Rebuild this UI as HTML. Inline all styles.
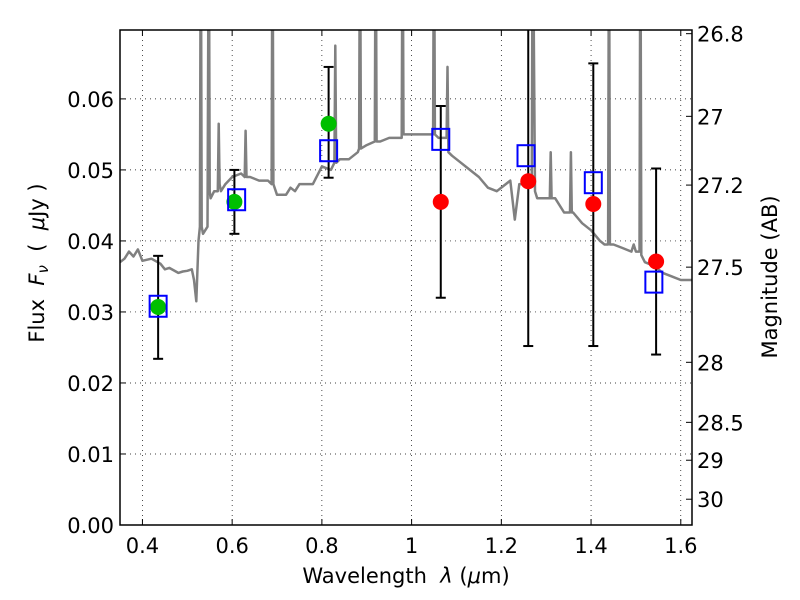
<!DOCTYPE html>
<html><head><meta charset="utf-8"><style>
body{margin:0;background:#fff}
svg{display:block;font-family:"DejaVu Sans","Liberation Sans",sans-serif}
text{white-space:pre}
</style></head><body>
<svg id="chart" width="800" height="600">
<defs><clipPath id="clip"><rect x="120" y="30" width="572" height="495"/></clipPath></defs>
<rect x="0" y="0" width="800" height="600" fill="#fff"/>
<g id="grid"></g>
<g id="series" clip-path="url(#clip)"></g>
<rect x="120" y="30" width="572" height="495" fill="none" stroke="#000" stroke-width="1.5"/>
<g id="axes"></g>
<text x="406" y="583" font-size="21" text-anchor="middle">Wavelength  <tspan font-style="italic">λ</tspan> (<tspan font-style="italic">μ</tspan>m)</text>
<text transform="translate(44,263) rotate(-90)" font-size="21" text-anchor="middle">Flux  <tspan font-style="italic">F</tspan><tspan font-style="italic" font-size="15" dy="4">ν</tspan><tspan dy="-4">  (  </tspan><tspan font-style="italic">μ</tspan>Jy )</text>
<text transform="translate(777,277) rotate(-90)" font-size="21" text-anchor="middle">Magnitude (AB)</text>
</svg>
<script>
const xTicks=[0.4,0.6,0.8,1.0,1.2,1.4,1.6];
const xTickLabels=["0.4","0.6","0.8","1","1.2","1.4","1.6"];
const yTicks=[0,0.01,0.02,0.03,0.04,0.05,0.06];
const yTickLabels=["0.00","0.01","0.02","0.03","0.04","0.05","0.06"];
const magTicks=[26.8,27,27.2,27.5,28,28.5,29,30];
const magTickLabels=["26.8","27","27.2","27.5","28","28.5","29","30"];
const specWave=[0.35,0.36,0.37,0.38,0.39,0.4,0.42,0.44,0.45,0.46,0.48,0.49,0.5,0.51,0.515,0.52,0.525,0.528,0.53,0.532,0.535,0.545,0.548,0.55,0.552,0.56,0.568,0.57,0.572,0.575,0.585,0.6,0.62,0.628,0.63,0.632,0.64,0.66,0.68,0.688,0.69,0.692,0.7,0.72,0.73,0.74,0.75,0.76,0.78,0.8,0.82,0.828,0.83,0.832,0.84,0.86,0.88,0.883,0.885,0.887,0.9,0.918,0.92,0.922,0.93,0.95,0.97,0.978,0.98,0.982,1.0,1.02,1.04,1.048,1.05,1.052,1.06,1.078,1.08,1.082,1.09,1.11,1.13,1.15,1.17,1.19,1.21,1.22,1.23,1.24,1.26,1.268,1.27,1.275,1.28,1.3,1.308,1.31,1.312,1.32,1.34,1.353,1.355,1.357,1.36,1.38,1.4,1.42,1.43,1.438,1.44,1.442,1.45,1.47,1.49,1.495,1.5,1.508,1.51,1.512,1.52,1.54,1.56,1.58,1.6,1.625];
const specFlux=[0.037,0.0375,0.0385,0.0378,0.0388,0.0372,0.0375,0.0368,0.036,0.0362,0.0355,0.0357,0.0358,0.036,0.0345,0.0315,0.04,0.042,0.09,0.042,0.041,0.042,0.09,0.047,0.046,0.047,0.047,0.0565,0.048,0.047,0.048,0.049,0.0495,0.049,0.0555,0.049,0.049,0.0485,0.0485,0.048,0.09,0.048,0.0465,0.0465,0.0475,0.047,0.048,0.048,0.048,0.0505,0.050,0.051,0.0675,0.051,0.0515,0.0515,0.0525,0.053,0.09,0.053,0.0535,0.054,0.09,0.054,0.054,0.0545,0.0545,0.0545,0.09,0.055,0.055,0.055,0.055,0.055,0.09,0.055,0.0545,0.0545,0.0645,0.0525,0.052,0.051,0.050,0.049,0.0475,0.047,0.048,0.0485,0.043,0.048,0.048,0.049,0.09,0.047,0.046,0.046,0.046,0.0525,0.046,0.046,0.044,0.044,0.0525,0.044,0.044,0.0425,0.0415,0.040,0.0395,0.0395,0.09,0.0395,0.0395,0.039,0.0385,0.0395,0.0385,0.0385,0.09,0.038,0.037,0.0365,0.0355,0.035,0.0345,0.0345];
const greenWave=[0.435,0.605,0.815];
const greenFlux=[0.0307,0.0455,0.0565];
const redWave=[1.065,1.26,1.405,1.545];
const redFlux=[0.0455,0.0484,0.0452,0.0371];
const modelWave=[0.435,0.61,0.815,1.065,1.255,1.405,1.54];
const modelFlux=[0.0308,0.0458,0.0527,0.0543,0.0520,0.0482,0.0342];
const errWave=[0.435,0.605,0.815,1.065,1.26,1.405,1.545];
const errLow=[0.0234,0.041,0.0489,0.032,0.0252,0.0252,0.024];
const errHigh=[0.0379,0.050,0.0645,0.059,0.080,0.065,0.0502];

const X0=120,X1=692,Y0=525,Y1=30,xmin=0.35,xmax=1.625,ymin=0,ymax=0.0697;
const sx=v=>X0+(v-xmin)/(xmax-xmin)*(X1-X0);
const sy=v=>Y0-(v-ymin)/(ymax-ymin)*(Y0-Y1);
const magToFlux=m=>Math.pow(10,(23.9-m)/2.5);
const NS="http://www.w3.org/2000/svg";
function mk(tag,attrs,parent){const e=document.createElementNS(NS,tag);for(const k in attrs)e.setAttribute(k,attrs[k]);parent.appendChild(e);return e;}
const grid=document.getElementById('grid'),axes=document.getElementById('axes'),ser=document.getElementById('series');
xTicks.forEach((t,i)=>{const x=sx(t);
 let g=mk('line',{x1:x,x2:x,y1:Y1,y2:Y0,stroke:'#000','stroke-width':0.7,'stroke-dasharray':'1,4'},grid);
 
 mk('line',{x1:x,x2:x,y1:Y0,y2:Y0-6,stroke:'#000'},axes);mk('line',{x1:x,x2:x,y1:Y1,y2:Y1+6,stroke:'#000'},axes);
 let l=mk('text',{x:x,y:Y0+28,'font-size':21,'text-anchor':'middle'},axes);l.textContent=xTickLabels[i];
 });
yTicks.forEach((t,i)=>{const y=sy(t);
 let g=mk('line',{x1:X0,x2:X1,y1:y,y2:y,stroke:'#000','stroke-width':0.7,'stroke-dasharray':'1,4'},grid);
 
 mk('line',{x1:X0,x2:X0+6,y1:y,y2:y,stroke:'#000'},axes);
 let l=mk('text',{x:X0-6,y:y+8,'font-size':21,'text-anchor':'end'},axes);l.textContent=yTickLabels[i];
 });
magTicks.forEach((m,i)=>{const y=sy(magToFlux(m));
 mk('line',{x1:X1,x2:X1-6,y1:y,y2:y,stroke:'#000'},axes);
 let l=mk('text',{x:X1+5,y:y+8,'font-size':21},axes);l.textContent=magTickLabels[i];
 });
let d=specWave.map((w,i)=>(i?'L':'M')+sx(w).toFixed(1)+','+sy(specFlux[i]).toFixed(1)).join('');
let sp=mk('path',{d:d,fill:'none',stroke:'#808080','stroke-width':2.5,'stroke-linejoin':'round'},ser);

errWave.forEach((w,i)=>{const x=sx(w),a=sy(errLow[i]),b=sy(errHigh[i]);
 let e=mk('g',{stroke:'#000','stroke-width':2},ser);
 
 mk('line',{x1:x,x2:x,y1:a,y2:b},e);mk('line',{x1:x-5,x2:x+5,y1:a,y2:a},e);mk('line',{x1:x-5,x2:x+5,y1:b,y2:b},e);});
greenWave.forEach((w,i)=>{let c=mk('circle',{cx:sx(w),cy:sy(greenFlux[i]),r:8,fill:'#00bf00'},ser);
 });
redWave.forEach((w,i)=>{let c=mk('circle',{cx:sx(w),cy:sy(redFlux[i]),r:8,fill:'#ff0000'},ser);
 });
modelWave.forEach((w,i)=>{let r=mk('rect',{x:sx(w)-8.5,y:sy(modelFlux[i])-10.5,width:17,height:21,fill:'none',stroke:'#0000ff','stroke-width':2},ser);
 });
</script>
</body></html>
